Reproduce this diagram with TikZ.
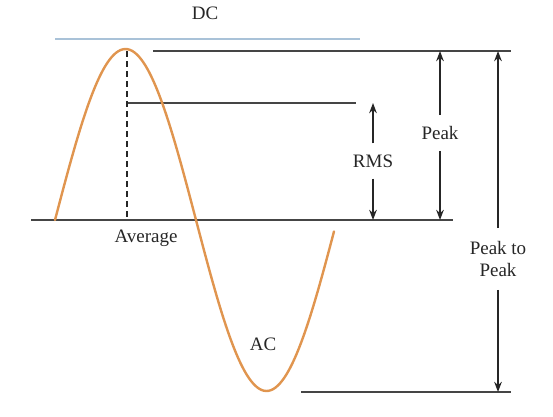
\documentclass[tikz,border=0pt]{standalone}
\usepackage{fontspec}
\setmainfont{Liberation Serif}
\usepackage{xcolor}
\usetikzlibrary{arrows.meta,positioning,calc}
\definecolor{acorange}{HTML}{E0954F}
\definecolor{dcblue}{HTML}{A9C2D8}
\definecolor{levelgray}{HTML}{454545}
\tikzset{
  lbl/.style={inner sep=0pt,font=\fontsize{19}{22}\selectfont,text=black!85},
  splitlbl/.style={lbl,inner xsep=2pt,inner ysep=11pt,align=center},
  levelline/.style={draw=levelgray,line width=1.7pt},
  dimarrow/.style={-{Stealth[length=3.6mm,width=2.7mm]},line width=1.3pt,black!85},
  acwave/.style={draw=acorange,line width=2.4pt}
}

\begin{document}
\begin{tikzpicture}[x=1pt,y=-1pt]
  \useasboundingbox (0,0) rectangle (553,416);
  % levels
  \coordinate (dcL) at (55,39);
  \coordinate (dcR) at (360,39);
  \coordinate (pkL) at (153,51);
  \coordinate (pkR) at (511,51);
  \coordinate (rmsL) at (128,103);
  \coordinate (rmsR) at (356,103);
  \coordinate (axL) at (31,220);
  \coordinate (axR) at (453,220);
  \coordinate (btL) at (301,392);
  \coordinate (btR) at (511,392);
  \draw[dcblue,line width=2pt] (dcL) -- (dcR);
  \draw[levelline] (pkL) -- (pkR);
  \draw[levelline] (rmsL) -- (rmsR);
  \draw[levelline] (axL) -- (axR);
  \draw[levelline] (btL) -- (btR);
  \draw[black!85,line width=1.3pt,dash pattern=on 6pt off 4pt] (127,51) -- (127,220);
  % the wave
  \draw[acwave,line cap=round,domain=55:334,samples=120,smooth]
    plot (\x,{220-171*sin(1.2766*(\x-55))});
  % labels
  \node[lbl,anchor=base] (dc) at (205,19) {DC};
  \node[lbl,anchor=base] (avg) at (146,242) {Average};
  \node[lbl,anchor=base] (ac) at (263,350) {AC};
  \node[splitlbl] (rms) at (373,161) {RMS};
  \node[splitlbl] (peak) at (440,133) {Peak};
  \node[splitlbl,inner ysep=13pt] (p2p) at (498,259) {Peak to\\Peak};
  % arrow ends
  \coordinate (rmsT) at (rms.north |- rmsR);
  \coordinate (rmsB) at (rms.south |- axR);
  \coordinate (peakT) at (peak.north |- pkR);
  \coordinate (peakB) at (peak.south |- axR);
  \coordinate (p2pT) at (p2p.north |- pkR);
  \coordinate (p2pB) at (p2p.south |- btR);
  \draw[dimarrow] (rms) -- (rmsT);
  \draw[dimarrow] (rms) -- (rmsB);
  \draw[dimarrow] (peak) -- (peakT);
  \draw[dimarrow] (peak) -- (peakB);
  \draw[dimarrow] (p2p) -- (p2pT);
  \draw[dimarrow] (p2p) -- (p2pB);
\end{tikzpicture}
\end{document}
